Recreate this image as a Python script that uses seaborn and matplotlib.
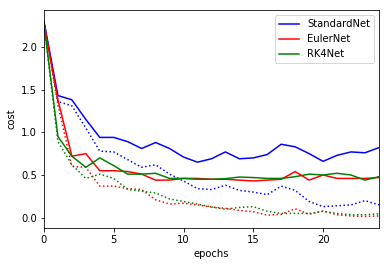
import numpy as np
import pandas as pd
import matplotlib
matplotlib.use("Agg")
import matplotlib.pyplot as plt
import seaborn as sns

# cost per epoch, solid = train, dotted = second curve
epochs = list(range(25))

standard_solid = [2.30, 1.43, 1.38, 1.15, 0.94, 0.94, 0.89, 0.81, 0.88, 0.81, 0.71, 0.65, 0.69,
                  0.77, 0.69, 0.70, 0.74, 0.86, 0.83, 0.75, 0.66, 0.73, 0.77, 0.76, 0.82]
standard_dotted = [2.30, 1.36, 1.31, 1.05, 0.78, 0.77, 0.68, 0.59, 0.62, 0.51, 0.43, 0.34, 0.33,
                   0.38, 0.32, 0.30, 0.27, 0.37, 0.32, 0.19, 0.13, 0.14, 0.15, 0.20, 0.15]
euler_solid = [2.28, 1.38, 0.72, 0.75, 0.55, 0.55, 0.54, 0.51, 0.44, 0.44, 0.46, 0.46, 0.45,
               0.45, 0.44, 0.43, 0.44, 0.45, 0.54, 0.44, 0.50, 0.46, 0.46, 0.46, 0.47]
euler_dotted = [2.28, 1.32, 0.60, 0.59, 0.37, 0.37, 0.34, 0.33, 0.21, 0.16, 0.17, 0.15, 0.125,
                0.11, 0.085, 0.07, 0.03, 0.04, 0.105, 0.04, 0.08, 0.035, 0.02, 0.015, 0.02]
rk4_solid = [2.27, 0.95, 0.72, 0.59, 0.70, 0.61, 0.51, 0.51, 0.52, 0.46, 0.46, 0.45, 0.45,
             0.457, 0.476, 0.47, 0.46, 0.46, 0.48, 0.51, 0.50, 0.52, 0.50, 0.44, 0.48]
rk4_dotted = [2.27, 0.89, 0.62, 0.46, 0.51, 0.46, 0.33, 0.31, 0.29, 0.22, 0.19, 0.16, 0.125,
              0.10, 0.12, 0.13, 0.075, 0.05, 0.05, 0.05, 0.075, 0.05, 0.035, 0.035, 0.045]

names = ["StandardNet", "EulerNet", "RK4Net"]
colors = ["blue", "red", "green"]
solid = [standard_solid, euler_solid, rk4_solid]
dotted = [standard_dotted, euler_dotted, rk4_dotted]

dpi = 72
fig = plt.figure(figsize=(389 / dpi, 266 / dpi), dpi=dpi)
ax = fig.add_axes([0.113, 0.143, 0.861, 0.819])

for name, col, s, d in zip(names, colors, solid, dotted):
    sns.lineplot(x=epochs, y=s, color=col, label=name, linewidth=1.5, ax=ax)
    sns.lineplot(x=epochs, y=d, color=col, linestyle=":", linewidth=1.5, ax=ax)

ax.set_xlim(0, 24)
ax.set_ylim(-0.12, 2.43)
ax.set_xticks([0, 5, 10, 15, 20])
ax.set_yticks([0.0, 0.5, 1.0, 1.5, 2.0])
ax.set_xlabel("epochs")
ax.set_ylabel("cost")
ax.legend(loc="upper right")

plt.savefig("out.png", dpi=dpi)
plt.close()
